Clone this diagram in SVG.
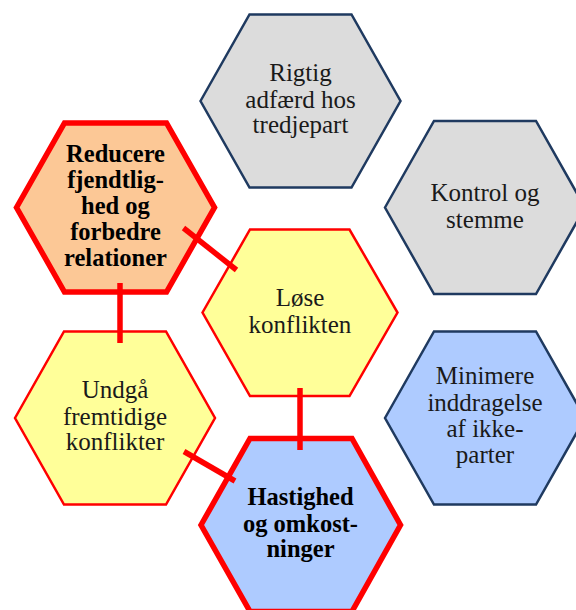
<svg xmlns="http://www.w3.org/2000/svg" width="576" height="610" viewBox="0 0 576 610">
<style>
.hex-grey{fill:#dcdcdc;stroke:#1f3a60;stroke-width:2.5;stroke-linejoin:miter}
.hex-blue{fill:#aecbff;stroke:#1f3a60;stroke-width:2.5}
.hex-yellow{fill:#ffff99;stroke:#ff0000;stroke-width:2.5}
.hex-orange-bold{fill:#fcc896;stroke:#ff0000;stroke-width:5.5}
.hex-blue-bold{fill:#aecbff;stroke:#ff0000;stroke-width:5.5}
.t{font-family:'Liberation Serif','DejaVu Serif',serif;font-size:25px;fill:#1a1a1a;text-anchor:middle}
.tb{font-family:'Liberation Serif','DejaVu Serif',serif;font-size:24.5px;font-weight:bold;fill:#000;text-anchor:middle}
.conn{stroke:#ff0000;stroke-width:5.5;fill:none;stroke-linecap:butt}
</style>
<defs>
<polygon id="hx" points="-100,0 -51,-86.5 51,-86.5 100,0 51,86.5 -51,86.5"/>
</defs>

<g id="node-rigtig">
<use href="#hx" class="hex-grey" transform="translate(300.5,101)"/>
<text class="t" x="300.5" y="81">Rigtig</text>
<text class="t" x="300.5" y="107.5">adfærd hos</text>
<text class="t" x="300.5" y="133">tredjepart</text>
</g>

<g id="node-kontrol">
<use href="#hx" class="hex-grey" transform="translate(485,207.5)"/>
<text class="t" x="485" y="201">Kontrol og</text>
<text class="t" x="485" y="227.5">stemme</text>
</g>

<g id="node-reducere">
<polygon class="hex-orange-bold" points="16.5,207.5 64.5,123 166.5,123 214.5,207.5 166.5,292 64.5,292"/>
<text class="tb" x="115.5" y="161.5">Reducere</text>
<text class="tb" x="115.5" y="187.5">fjendtlig-</text>
<text class="tb" x="115.5" y="213.5">hed og</text>
<text class="tb" x="115.5" y="239.5">forbedre</text>
<text class="tb" x="115.5" y="265.5">relationer</text>
</g>

<g id="node-loese">
<polygon class="hex-yellow" points="202.5,312.5 250,229.5 349.5,229.5 397.5,312.5 349.5,396 250,396"/>
<text class="t" x="300" y="306">Løse</text>
<text class="t" x="300" y="332.5">konflikten</text>
</g>

<g id="node-undgaa">
<use href="#hx" class="hex-yellow" transform="translate(115,418)"/>
<text class="t" x="115" y="398">Undgå</text>
<text class="t" x="115" y="425">fremtidige</text>
<text class="t" x="115" y="450">konflikter</text>
</g>

<g id="node-minimere">
<use href="#hx" class="hex-blue" transform="translate(485,418)"/>
<text class="t" x="485" y="384">Minimere</text>
<text class="t" x="485" y="410.5">inddragelse</text>
<text class="t" x="485" y="436.5">af ikke-</text>
<text class="t" x="485" y="463">parter</text>
</g>

<g id="node-hastighed">
<polygon class="hex-blue-bold" points="201,525 250,438.5 352,438.5 400.5,525 352,611.5 250,611.5"/>
<text class="tb" x="300.5" y="505">Hastighed</text>
<text class="tb" x="300.5" y="531.5">og omkost-</text>
<text class="tb" x="300.5" y="556.5">ninger</text>
</g>

<g id="connectors">
<line class="conn" x1="183.5" y1="228" x2="236.5" y2="270"/>
<line class="conn" x1="120" y1="283" x2="120" y2="343"/>
<line class="conn" x1="300" y1="388" x2="300" y2="450"/>
<line class="conn" x1="184" y1="451.5" x2="235" y2="481"/>
</g>
</svg>
